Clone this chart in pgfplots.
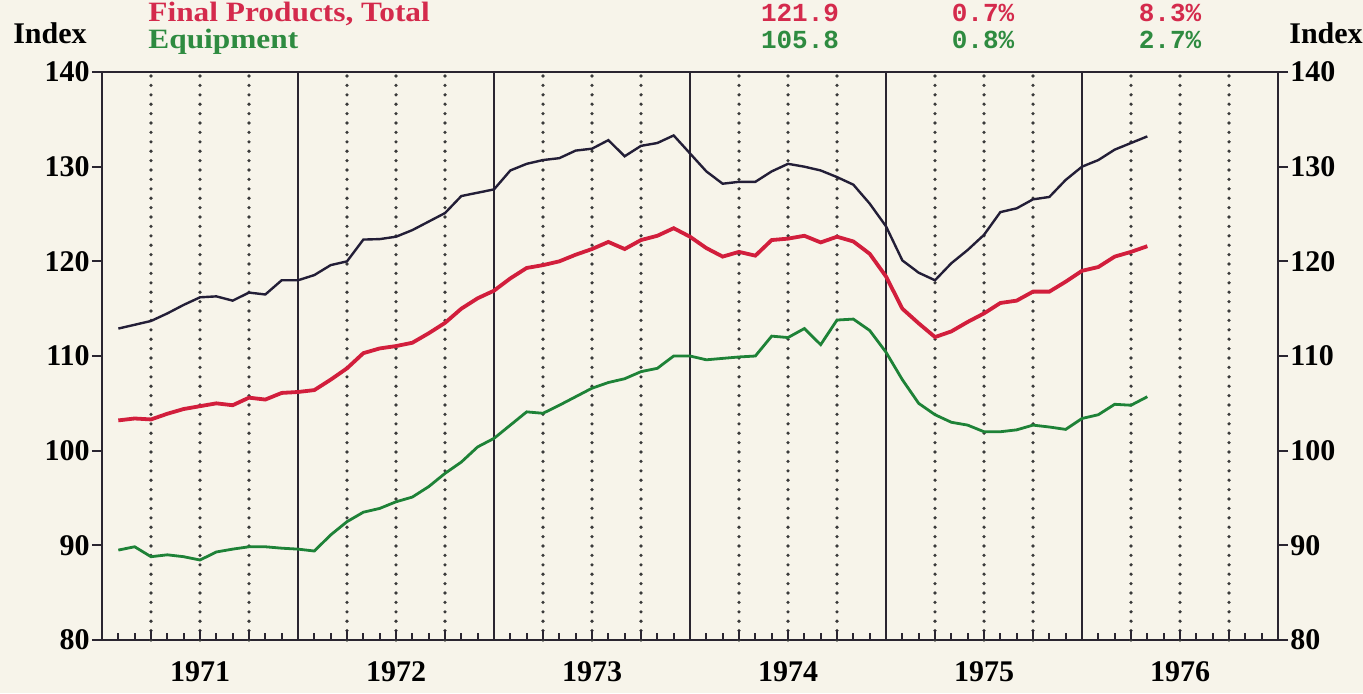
\documentclass[border=0pt]{standalone}
\usepackage{fontspec}
\setmainfont{Liberation Serif}
\newfontfamily\valfont{Liberation Mono}
\newfontfamily\hdrfont[FakeStretch=1.12]{Liberation Serif}
\usepackage{pgfplots}
\pgfplotsset{compat=1.18}

\definecolor{bgc}{HTML}{F7F4EA}
\definecolor{axisc}{HTML}{2A2530}
\definecolor{dotc}{HTML}{3A3A3A}
\definecolor{totc}{HTML}{231E37}
\definecolor{finc}{HTML}{D21E3C}
\definecolor{eqc}{HTML}{1E8237}
\definecolor{redtxt}{HTML}{D42A4C}
\definecolor{greentxt}{HTML}{2E8B40}

\newcommand\lbl{\fontsize{15}{17}\selectfont\bfseries}
\newcommand\hdr{\fontsize{14}{16}\selectfont\hdrfont\bfseries}
\newcommand\val{\fontsize{13}{15}\selectfont\valfont\bfseries}

% months since Jan 1971 (end of month), index 1969=100
\pgfplotstableread{
k total final equip
1 112.9 103.2 89.5
2 113.3 103.4 89.85
3 113.7 103.3 88.8
4 114.5 103.9 89.0
5 115.4 104.4 88.8
6 116.2 104.7 88.45
7 116.3 105.0 89.3
8 115.85 104.8 89.6
9 116.7 105.6 89.85
10 116.5 105.4 89.85
11 118.0 106.1 89.7
12 118.0 106.2 89.6
13 118.55 106.4 89.4
14 119.6 107.5 91.1
15 120.0 108.7 92.5
16 122.3 110.3 93.5
17 122.35 110.8 93.9
18 122.6 111.05 94.6
19 123.3 111.4 95.1
20 124.2 112.4 96.2
21 125.1 113.5 97.6
22 126.9 115.0 98.8
23 127.25 116.1 100.4
24 127.6 116.9 101.3
25 129.6 118.2 102.7
26 130.3 119.3 104.1
27 130.7 119.6 103.95
28 130.9 120.0 104.8
29 131.7 120.7 105.7
30 131.9 121.3 106.6
31 132.8 122.05 107.2
32 131.1 121.3 107.6
33 132.2 122.25 108.35
34 132.5 122.7 108.7
35 133.3 123.5 110.0
36 131.4 122.6 110.0
37 129.5 121.4 109.6
38 128.2 120.5 109.75
39 128.4 121.0 109.9
40 128.4 120.6 110.0
41 129.5 122.25 112.1
42 130.3 122.4 111.95
43 130.0 122.7 112.9
44 129.6 122.0 111.2
45 128.9 122.6 113.8
46 128.1 122.1 113.9
47 126.1 120.8 112.7
48 123.7 118.4 110.4
49 120.1 115.0 107.5
50 118.8 113.45 105.0
51 118.0 112.0 103.8
52 119.8 112.6 103.0
53 121.2 113.6 102.7
54 122.8 114.5 102.0
55 125.2 115.6 102.0
56 125.6 115.85 102.2
57 126.55 116.8 102.7
58 126.8 116.8 102.5
59 128.6 117.85 102.25
60 130.0 119.0 103.4
61 130.7 119.4 103.8
62 131.8 120.5 104.9
63 132.5 121.0 104.8
64 133.2 121.6 105.7
}\ipdata

\begin{document}
\begin{tikzpicture}
\fill[bgc] (-51pt,-26.5pt) rectangle (630.5pt,320pt);
\begin{axis}[
  at={(0pt,0pt)}, anchor=south west,
  scale only axis, width=588pt, height=284pt,
  xmin=0, xmax=72, ymin=80, ymax=140,
  clip=false,
  axis line style={line width=0.9pt, color=axisc},
  tick align=outside,
  xtick={0,12,...,72}, xticklabels={},
  xtick pos=left,
  major x tick style={draw=none},
  minor xtick={1,...,71},
  minor tick length=3.5pt,
  minor x tick style={yshift=3.5pt, line width=0.9pt, color=axisc},
  xmajorgrids=true, ymajorgrids=false,
  major grid style={line width=0.9pt, color=axisc},
  extra x ticks={3,6,9,15,18,21,27,30,33,39,42,45,51,54,57,63,66,69},
  extra x tick labels={},
  extra x tick style={
    major grid style={line width=1.8pt, color=dotc, line cap=round, dash pattern=on 0pt off 4.7pt},
    major tick length=5pt,
    major x tick style={draw=axisc, line width=0.9pt, yshift=5pt},
  },
  ytick={80,90,...,140},
  ytick pos=both, yticklabel pos=left,
  major tick length=5pt,
  major y tick style={line width=0.9pt, color=axisc},
  yticklabel style={font=\lbl, text=black, inner sep=0pt, xshift=-1pt},
  /pgf/number format/assume math mode=true,
]
\addplot[color=eqc, line width=1.4pt] table[x=k, y=equip] {\ipdata};
\addplot[color=finc, line width=1.9pt] table[x=k, y=final] {\ipdata};
\addplot[color=totc, line width=1.2pt] table[x=k, y=total] {\ipdata};
\end{axis}

% right-hand scale
\foreach \v in {80,90,...,140}
  \node[anchor=west, inner sep=0pt, font=\lbl] at (594pt,{(\v-80)*4.7333pt}) {\v};

% years
\foreach \y [count=\i from 0] in {1971,1972,1973,1974,1975,1976}
  \node[font=\lbl] at ({(6+12*\i)*8.1667pt},-16pt) {\y};

% header
\node[font=\lbl] at (-26pt,303.5pt) {Index};
\node[font=\lbl] at (612pt,303.5pt) {Index};
\node[anchor=base west, inner sep=0pt, font=\hdr, text=redtxt] at (23pt,309.5pt) {Final Products, Total};
\node[anchor=base west, inner sep=0pt, font=\hdr, text=greentxt] at (23pt,296pt) {Equipment};
\node[anchor=base, inner sep=0pt, font=\val, text=redtxt] at (349pt,309.5pt) {121.9};
\node[anchor=base, inner sep=0pt, font=\val, text=redtxt] at (440.5pt,309.5pt) {0.7\%};
\node[anchor=base, inner sep=0pt, font=\val, text=redtxt] at (534pt,309.5pt) {8.3\%};
\node[anchor=base, inner sep=0pt, font=\val, text=greentxt] at (349pt,296pt) {105.8};
\node[anchor=base, inner sep=0pt, font=\val, text=greentxt] at (440.5pt,296pt) {0.8\%};
\node[anchor=base, inner sep=0pt, font=\val, text=greentxt] at (534pt,296pt) {2.7\%};

\pgfresetboundingbox
\path[use as bounding box] (-51pt,-26.5pt) rectangle (630.5pt,320pt);
\end{tikzpicture}
\end{document}
